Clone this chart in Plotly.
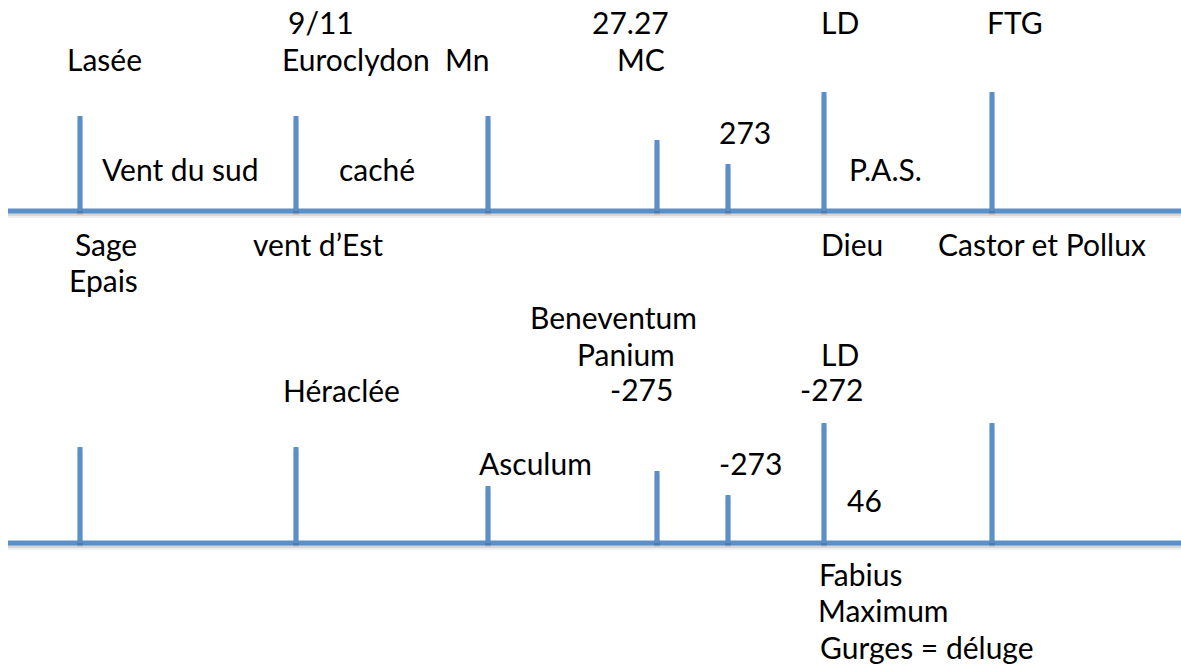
import plotly.graph_objects as go

# ---- data (reference-pixel diagram coordinates) ----
tick_x = [80, 296, 488, 657, 728, 824, 992]
baseline_y = [211, 543]
baseline_x = [8, 1181]
top_tick_tops = [116, 116, 116, 140, 164, 92, 92]
bottom_tick_tops = [447, 447, 486, 471, 495, 423, 423]

top_labels = ["9/11", "27.27", "LD", "FTG",
              "Lasée", "Euroclydon", "Mn", "MC",
              "273", "Vent du sud", "caché", "P.A.S.",
              "Sage", "vent d’Est", "Dieu", "Castor et Pollux", "Epais"]
top_label_x = [321, 630, 840, 1015,
               104, 356, 467, 641,
               745, 180, 377, 885,
               106, 318, 852, 1042, 103]
top_label_y = [25, 25, 25, 25,
               62, 62, 62, 62,
               135, 172, 172, 172,
               247, 247, 247, 247, 283]

bottom_labels = ["Beneventum", "Panium", "LD", "Héraclée", "-275", "-272",
                 "Asculum", "-273", "46", "Fabius", "Maximum", "Gurges = déluge"]
bottom_label_x = [613, 626, 840, 341, 641, 831,
                  535, 750, 864, 860, 883, 927]
bottom_label_y = [320, 357, 357, 393, 392, 392,
                  466, 466, 503, 577, 613, 650]

LINE = "#5B8FC8"
FONT = dict(family="Lato, 'Open Sans', sans-serif", size=30, color="#000000")
TEXT_SHIFT = -3  # annotation box centre vs. cap-height centre

fig = go.Figure()

def add_line(xs, ys):
    for off, alpha, w in [(4, 0.06, 6), (2.5, 0.10, 5)]:
        fig.add_trace(go.Scatter(x=xs, y=[y + off for y in ys], mode="lines",
                                 line=dict(color=f"rgba(0,0,0,{alpha})", width=w),
                                 hoverinfo="skip", showlegend=False))
    fig.add_trace(go.Scatter(x=xs, y=ys, mode="lines",
                             line=dict(color=LINE, width=5), hoverinfo="skip",
                             showlegend=False))

for by, tops in zip(baseline_y, [top_tick_tops, bottom_tick_tops]):
    add_line(baseline_x, [by, by])
    for tx, tt in zip(tick_x, tops):
        add_line([tx, tx], [tt, by])

for labels, xs, ys in [(top_labels, top_label_x, top_label_y),
                       (bottom_labels, bottom_label_x, bottom_label_y)]:
    for t, x, y in zip(labels, xs, ys):
        fig.add_annotation(x=x, y=y + TEXT_SHIFT, text=t, showarrow=False, xanchor="center",
                           yanchor="middle", font=FONT)

fig.update_layout(
    width=1181, height=666,
    margin=dict(l=0, r=0, t=0, b=0),
    paper_bgcolor="white", plot_bgcolor="white",
    xaxis=dict(range=[0, 1181], visible=False, fixedrange=True),
    yaxis=dict(range=[666, 0], visible=False, fixedrange=True),
    showlegend=False,
)

# remove the default 8px page margin so the figure fills the window exactly
fig.write_html("out.html",
               config={"displayModeBar": False},
               post_script="document.body.style.margin='0';document.body.style.overflow='hidden';")
